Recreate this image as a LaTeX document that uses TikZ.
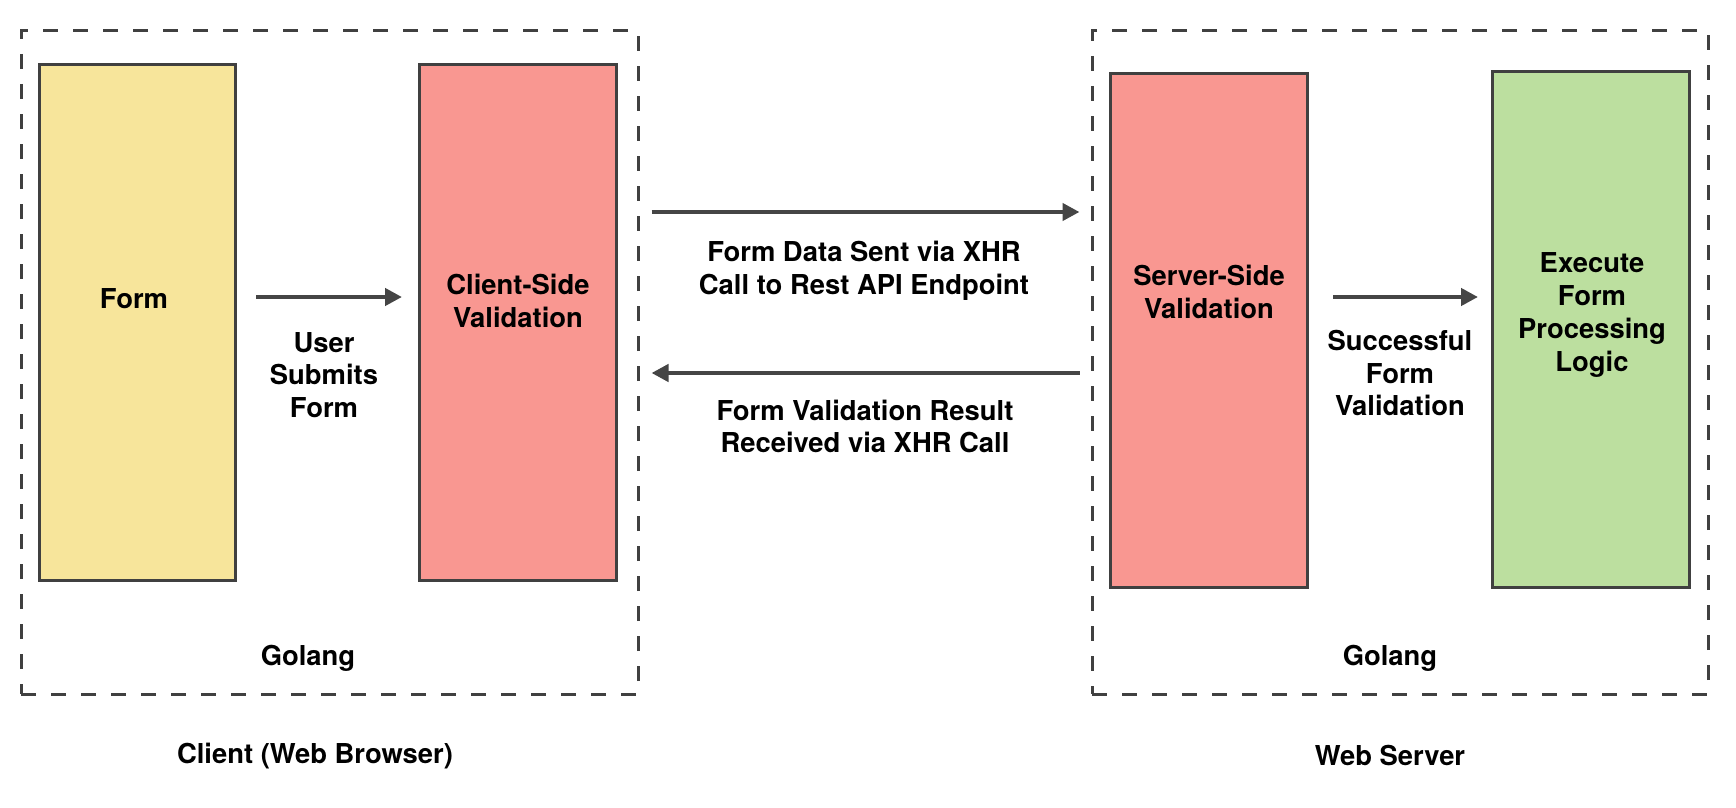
\documentclass[tikz,border=0pt]{standalone}
\usepackage{fontspec}
\setmainfont{TeX Gyre Heros}
\usetikzlibrary{arrows.meta}
\definecolor{formyel}{HTML}{F7E59B}
\definecolor{valred}{HTML}{F99791}
\definecolor{okgreen}{HTML}{BCDF9F}
\definecolor{edgegray}{HTML}{404040}
\definecolor{arrgray}{HTML}{454545}
\tikzset{
  box/.style={draw=edgegray, line width=1.5pt, rectangle, inner sep=0pt},
  grpbox/.style={draw=edgegray, line width=1.5pt, dash pattern=on 7.5pt off 7.5pt, rectangle, inner sep=0pt},
  txt/.style={font=\fontsize{13.7}{16.4}\selectfont\bfseries, align=center, inner sep=0pt, text=black},
  arr/.style={draw=arrgray, line width=2.2pt, -{Triangle[length=8.5pt,width=8.5pt]}, arrgray},
}
\begin{document}
\begin{tikzpicture}[x=0.5pt,y=-0.5pt]
\useasboundingbox (0,0) rectangle (1736,808);
% group boxes
\node[grpbox, minimum width=308.5pt, minimum height=331.5pt] (clientgrp) at (329.5,362.5) {};
\node[grpbox, minimum width=308pt, minimum height=331.5pt] (servergrp) at (1400,362.5) {};
% boxes
\node[box, fill=formyel, minimum width=98pt, minimum height=258pt] (form) at (137,322.5) {};
\node[box, fill=valred, minimum width=98.5pt, minimum height=258pt] (client) at (518,322.5) {};
\node[box, fill=valred, minimum width=98.5pt, minimum height=257pt] (server) at (1209,330.5) {};
\node[box, fill=okgreen, minimum width=98.5pt, minimum height=258pt] (exec) at (1591,329.5) {};
% box texts
\node[txt] (formtxt) at (134,299) {Form};
\node[txt] (clienttxt) at (518,301) {Client-Side\\Validation};
\node[txt] (servertxt) at (1209,292) {Server-Side\\Validation};
\node[txt] (exectxt) at (1592,315) {Execute\\Form\\Processing\\Logic};
% rows for arrows
\coordinate (rowA) at (0,297);
\coordinate (rowB) at (0,212);
\coordinate (rowC) at (0,373);
% arrows
\draw[arr, shorten <=9.75pt, shorten >=8pt] (form.east |- rowA) -- (client.west |- rowA);
\draw[arr, shorten <=6pt, shorten >=5.5pt] (clientgrp.east |- rowB) -- (servergrp.west |- rowB);
\draw[arr, shorten <=5.5pt, shorten >=6pt] (servergrp.west |- rowC) -- (clientgrp.east |- rowC);
\draw[arr, shorten <=12pt, shorten >=6.5pt] (server.east |- rowA) -- (exec.west |- rowA);
% arrow labels
\node[txt] (lblsubmit) at (324,375) {User\\Submits\\Form};
\node[txt] (lblsent) at (864,270.5) {Form Data Sent via XHR\\Call to Rest API Endpoint};
\node[txt] (lblresult) at (865,426.5) {Form Validation Result\\Received via XHR Call};
\node[txt] (lblsuccess) at (1400,373) {Successful\\Form\\Validation};
% group labels
\node[txt] (golangL) at (308,658) {Golang};
\node[txt] (golangR) at (1390,658) {Golang};
\node[txt] (clientlbl) at (315,756) {Client (Web Browser)};
\node[txt] (serverlbl) at (1390,756) {Web Server};
\end{tikzpicture}
\end{document}
